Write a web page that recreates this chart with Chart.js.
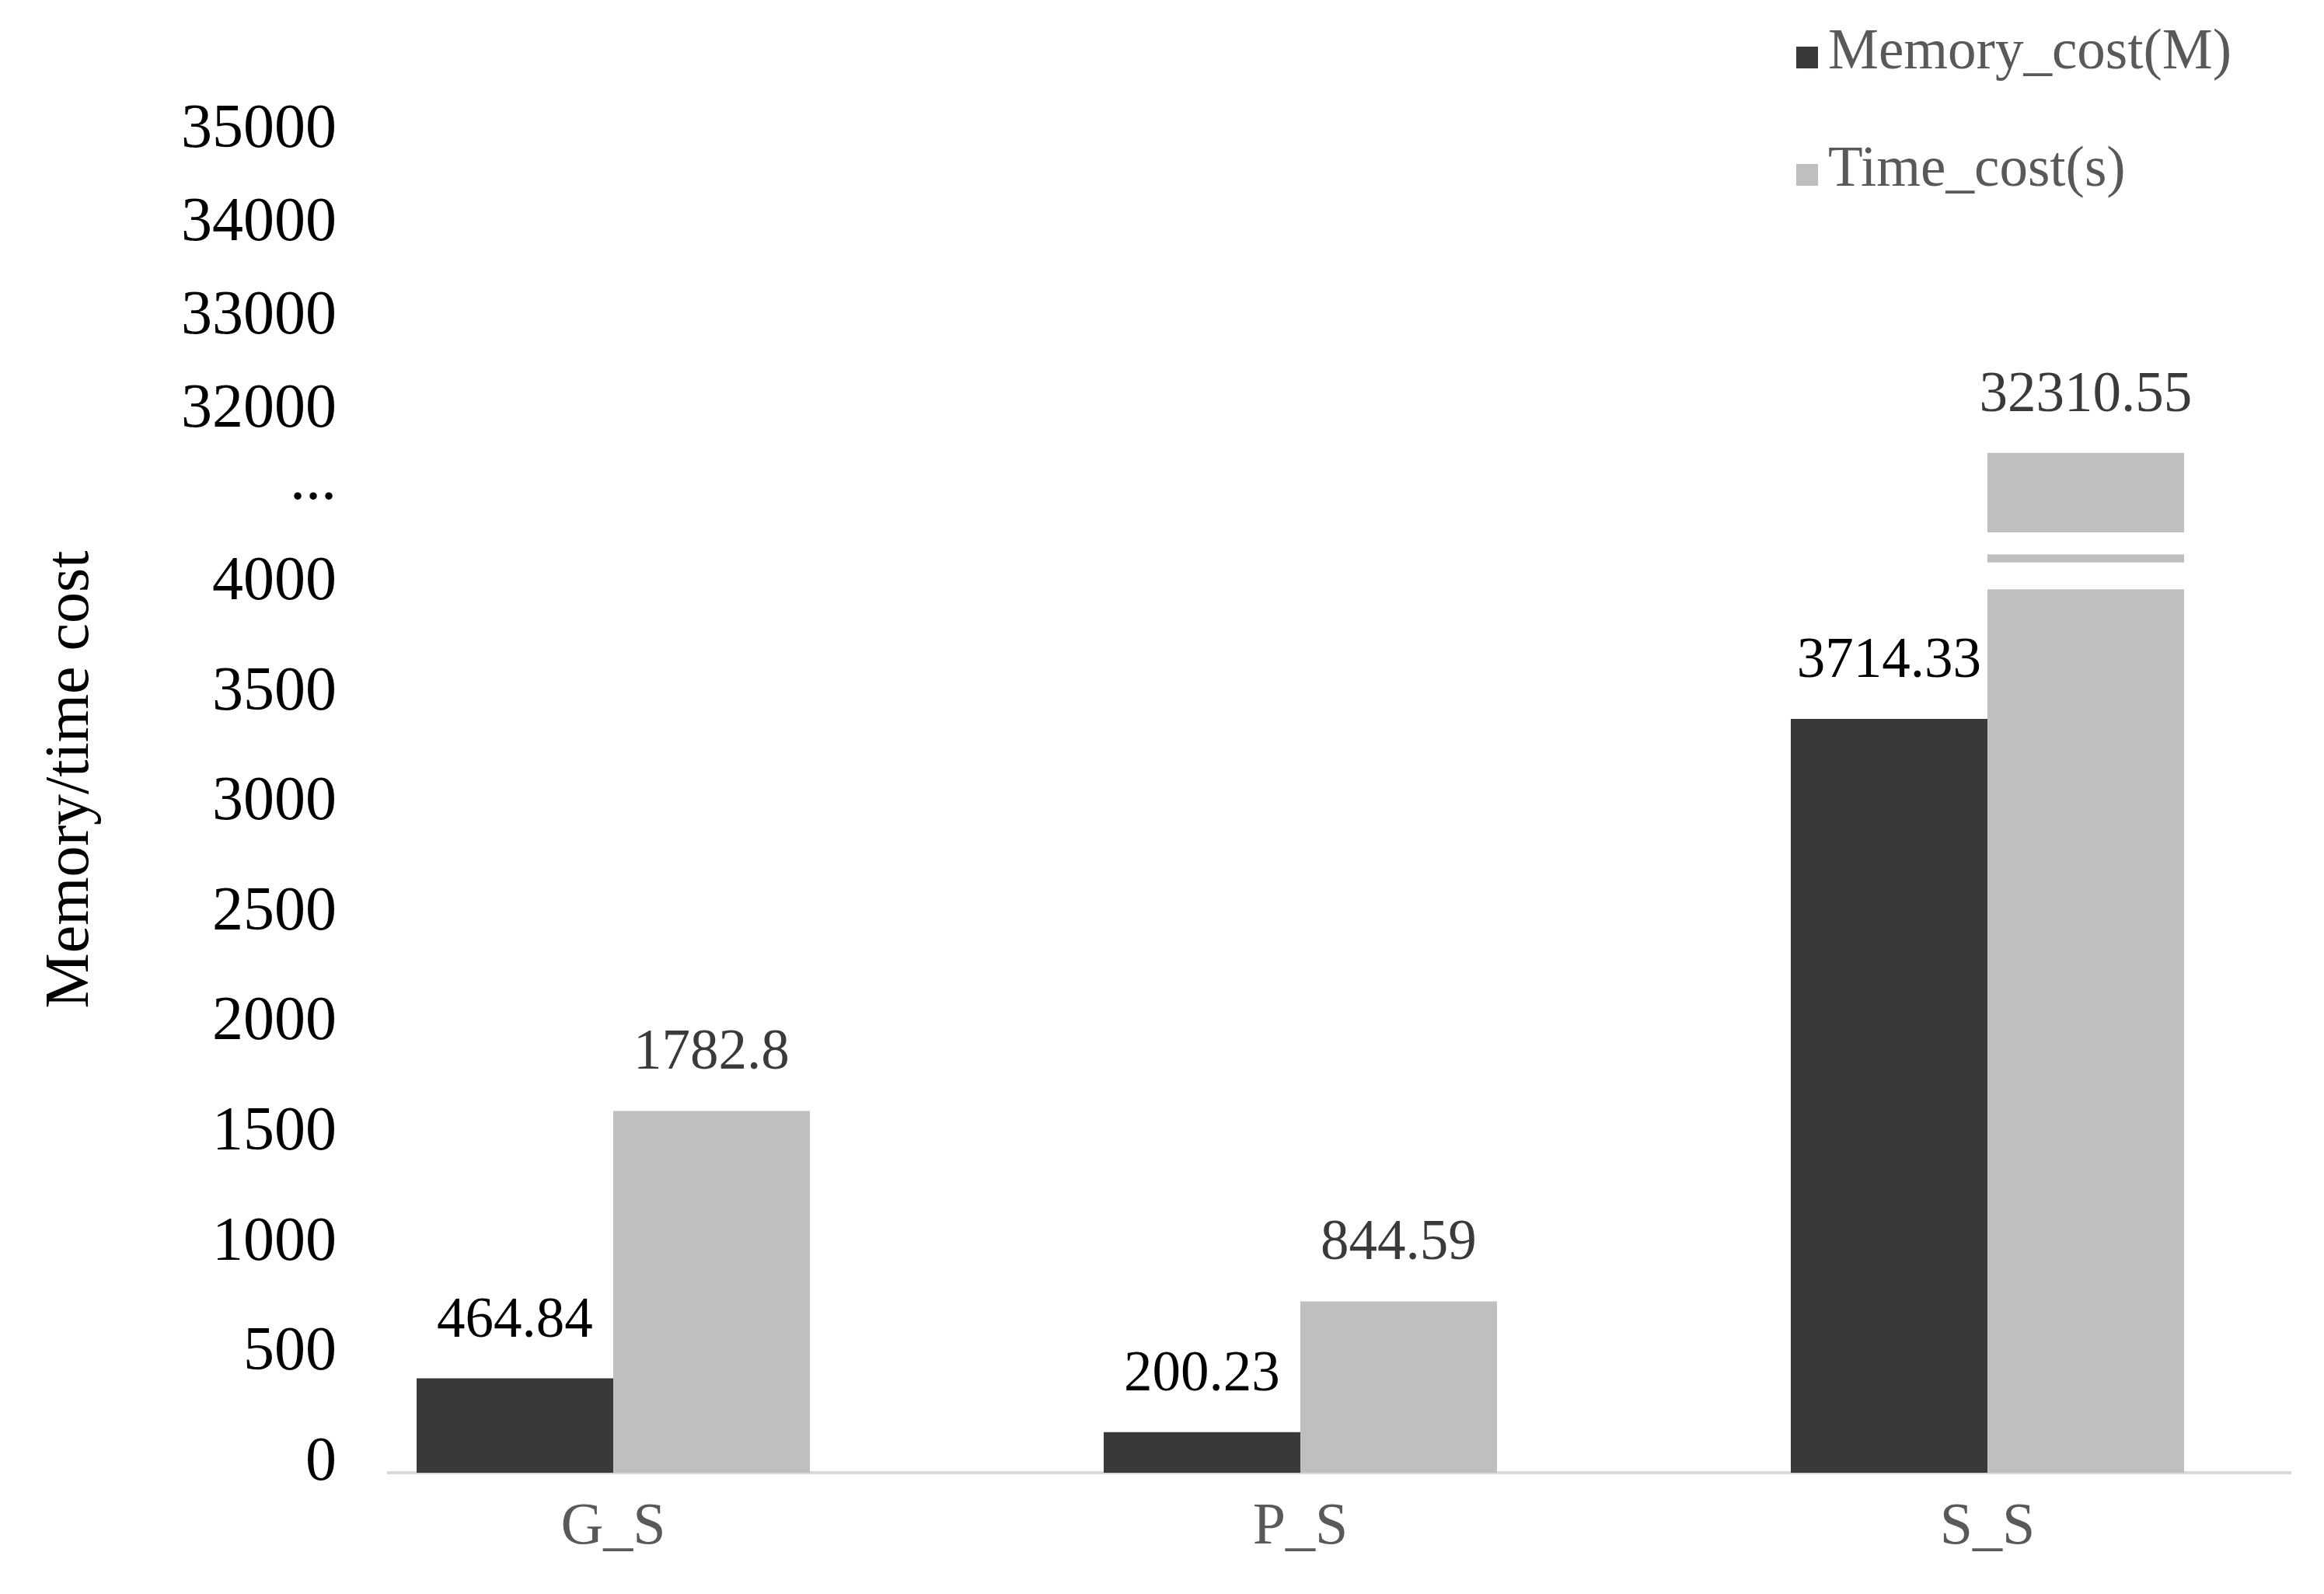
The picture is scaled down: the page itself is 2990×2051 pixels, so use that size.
<!DOCTYPE html>
<html>
<head>
<meta charset="utf-8">
<script src="https://cdn.jsdelivr.net/npm/chart.js@4.4.1/dist/chart.umd.min.js"></script>
<style>
  html, body { margin: 0; padding: 0; background: #ffffff; }
  #wrap { width: 2990px; height: 2051px; position: relative; }
</style>
</head>
<body>
<div id="wrap"><canvas id="c"></canvas></div>
<script>
// ---------------- data ----------------
const CATEGORIES = ['G_S', 'P_S', 'S_S'];
const SERIES_LABELS = ['Memory_cost(M)', 'Time_cost(s)'];
const MEMORY_COST = [464.84, 200.23, 3714.33];
const TIME_COST = [1782.8, 844.59, 32310.55];
const Y_TICKS_LOW = [0, 500, 1000, 1500, 2000, 2500, 3000, 3500, 4000];
const Y_TICKS_HIGH = [32000, 33000, 34000, 35000];
const Y_BREAK_LABEL = '...';
const Y_TITLE = 'Memory/time cost';

// ---------------- style ----------------
const FONT = 'Liberation Serif';
const BAR_COLORS = ['#3a3838', '#bfbfbf'];
const VALUE_LABEL_COLORS = ['#000000', '#3a3a3a'];
// broken-axis geometry: [valueFrom, valueTo, fractionFrom, fractionTo] of the axis length
const BAR_SEGMENTS = [[0, 4000, 0, 0.5855], [4000, 32000, 0.5855, 0.7147], [32000, 35000, 0.7147, 0.9165]];
const TICK_SEGMENTS = [[0, 4000, 0.0068, 0.6418], [32000, 35000, 0.7662, 0.9680]];
const BREAK_TICK_VALUE = 18000;          // sentinel tick inside the break
const BREAK_TICK_FRACTION = 0.7141;
const GAP_BANDS = [[0.40, 0.55], [0.595, 0.718]]; // white cuts, fractions between 4000 and 32000 levels

function mapFrac(v, segs) {
  for (const [v0, v1, f0, f1] of segs) {
    if (v >= v0 && v <= v1) return f0 + (v - v0) / (v1 - v0) * (f1 - f0);
  }
  for (let i = 0; i < segs.length - 1; i++) {
    const a = segs[i], b = segs[i + 1];
    if (v > a[1] && v < b[0]) return a[3] + (v - a[1]) / (b[0] - a[1]) * (b[2] - a[3]);
  }
  const last = segs[segs.length - 1];
  if (v > last[1]) return last[3] + (v - last[1]) / (last[1] - last[0]) * (last[3] - last[2]);
  const first = segs[0];
  return first[2] + (v - first[0]) / (first[1] - first[0]) * (first[3] - first[2]);
}

class BrokenLinearScale extends Chart.LinearScale {
  buildTicks() {
    return [
      ...Y_TICKS_LOW.map(v => ({ value: v })),
      { value: BREAK_TICK_VALUE },
      ...Y_TICKS_HIGH.map(v => ({ value: v }))
    ];
  }
  getPixelForValue(v) {
    if (v === null || v === undefined || isNaN(v)) return NaN;
    return this.bottom - mapFrac(v, BAR_SEGMENTS) * (this.bottom - this.top);
  }
  getPixelForTick(i) {
    const t = this.ticks[i];
    if (!t) return null;
    const f = t.value === BREAK_TICK_VALUE ? BREAK_TICK_FRACTION : mapFrac(t.value, TICK_SEGMENTS);
    return this.bottom - f * (this.bottom - this.top);
  }
  getValueForPixel(p) {
    const f = (this.bottom - p) / (this.bottom - this.top);
    for (const [v0, v1, f0, f1] of BAR_SEGMENTS) {
      if (f >= f0 && f <= f1) return v0 + (f - f0) / (f1 - f0) * (v1 - v0);
    }
    return 0;
  }
}
BrokenLinearScale.id = 'brokenLinear';
BrokenLinearScale.defaults = {};
Chart.register(BrokenLinearScale);

const barBreakPlugin = {
  id: 'barBreak',
  afterDatasetsDraw(chart) {
    const y = chart.scales.y;
    const ctx = chart.ctx;
    const lowLevel = Y_TICKS_LOW[Y_TICKS_LOW.length - 1];
    const highLevel = Y_TICKS_HIGH[0];
    const yLow = y.getPixelForValue(lowLevel);
    const yHigh = y.getPixelForValue(highLevel);
    const span = yLow - yHigh;
    ctx.save();
    ctx.fillStyle = '#ffffff';
    chart.data.datasets.forEach((ds, di) => {
      const meta = chart.getDatasetMeta(di);
      meta.data.forEach((bar, i) => {
        if (ds.data[i].y <= highLevel) return;
        const x0 = bar.x - bar.width / 2;
        for (const [a, b] of GAP_BANDS) {
          const top = yLow - b * span, bot = yLow - a * span;
          ctx.fillRect(x0, top, bar.width, bot - top);
        }
      });
    });
    ctx.restore();
  }
};

const valueLabelPlugin = {
  id: 'valueLabels',
  afterDatasetsDraw(chart) {
    const ctx = chart.ctx;
    ctx.save();
    ctx.font = '73px "' + FONT + '"';
    ctx.textAlign = 'center';
    ctx.textBaseline = 'alphabetic';
    chart.data.datasets.forEach((ds, di) => {
      const meta = chart.getDatasetMeta(di);
      ctx.fillStyle = VALUE_LABEL_COLORS[di];
      meta.data.forEach((bar, i) => {
        ctx.fillText(String(ds.data[i].y), bar.x, bar.y - 54);
      });
    });
    ctx.restore();
  }
};

const legendPlugin = {
  id: 'customLegend',
  afterDraw(chart) {
    const ctx = chart.ctx;
    const rows = [88, 239];
    ctx.save();
    ctx.font = '73px "' + FONT + '"';
    ctx.textAlign = 'left';
    ctx.textBaseline = 'alphabetic';
    chart.data.datasets.forEach((ds, i) => {
      const base = rows[i];
      ctx.fillStyle = ds.backgroundColor;
      ctx.fillRect(2311, base - 28, 28, 28);
      ctx.fillStyle = '#595959';
      ctx.fillText(ds.label, 2352, base);
    });
    ctx.restore();
  }
};

Chart.defaults.font.family = FONT;
Chart.defaults.color = '#000000';

new Chart(document.getElementById('c'), {
  type: 'bar',
  data: {
    datasets: [
      {
        label: SERIES_LABELS[0],
        data: MEMORY_COST.map((v, i) => ({ x: i, y: v })),
        backgroundColor: BAR_COLORS[0],
        borderWidth: 0,
        categoryPercentage: 0.5724,
        barPercentage: 1.0
      },
      {
        label: SERIES_LABELS[1],
        data: TIME_COST.map((v, i) => ({ x: i, y: v })),
        backgroundColor: BAR_COLORS[1],
        borderWidth: 0,
        categoryPercentage: 0.5724,
        barPercentage: 1.0
      }
    ]
  },
  options: {
    responsive: true,
    maintainAspectRatio: false,
    devicePixelRatio: 1,
    animation: false,
    events: [],
    layout: { padding: { top: 111, right: 43, bottom: 0, left: 0 } },
    plugins: {
      legend: { display: false },
      tooltip: { enabled: false },
      title: { display: false }
    },
    scales: {
      x: {
        type: 'linear',
        bounds: 'data',
        offset: false,
        min: -0.3269,
        max: 2.4412,
        grid: { display: false, drawTicks: false, offset: false },
        border: { display: true, color: '#d9d9d9', width: 4 },
        ticks: {
          autoSkip: false,
          maxRotation: 0,
          includeBounds: false,
          padding: 25,
          color: '#595959',
          font: { size: 76, family: FONT },
          callback: (v) => CATEGORIES[v] !== undefined ? CATEGORIES[v] : ''
        },
        afterDataLimits: (scale) => { scale.min = -0.3269; scale.max = 2.4412; },
        afterBuildTicks: (scale) => { scale.ticks = CATEGORIES.map((c, i) => ({ value: i })); scale.min = -0.3269; scale.max = 2.4412; },
        afterFit: (scale) => { scale.height = 156; scale.paddingLeft = 0; scale.paddingRight = 0; }
      },
      y: {
        type: 'brokenLinear',
        min: 0,
        max: 35000,
        grid: { display: false, drawTicks: false },
        border: { display: false },
        ticks: {
          autoSkip: false,
          padding: 67,
          color: '#000000',
          font: { size: 80, family: FONT },
          callback: (v) => v === BREAK_TICK_VALUE ? Y_BREAK_LABEL : String(v)
        },
        title: {
          display: true,
          text: Y_TITLE,
          color: '#000000',
          font: { size: 80, family: FONT },
          padding: { top: 44, bottom: 0 }
        },
        afterFit: (scale) => { scale.width = 500; scale.paddingTop = 0; scale.paddingBottom = 0; }
      }
    }
  },
  plugins: [barBreakPlugin, valueLabelPlugin, legendPlugin]
});
</script>
</body>
</html>
